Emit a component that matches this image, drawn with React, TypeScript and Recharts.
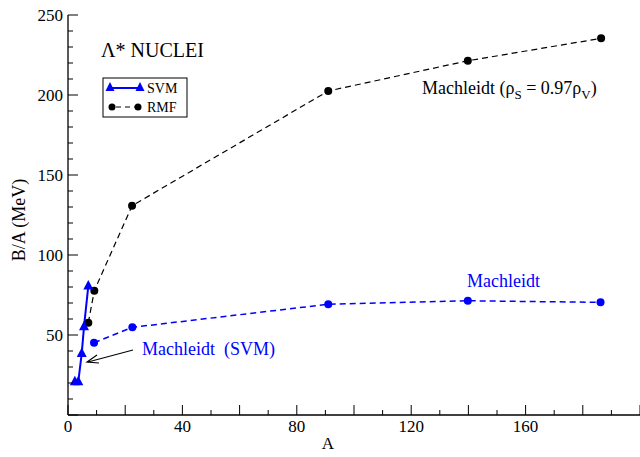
import React from 'react';
import { LineChart, Line, XAxis, YAxis } from 'recharts';

// ---- data ----
const svmA = [2.4, 3.6, 4.8, 5.6, 7.1];
const svmBA = [20.8, 20.8, 38.5, 55.2, 80.6];
const rmfA = [7.1, 9.2, 22.4, 91, 139.8, 186.4];
const rmfBA = [57.7, 77.7, 130.8, 202.5, 221.4, 235.4];
const machA = [9.1, 22.5, 91, 139.8, 186.2];
const machBA = [45.2, 54.8, 69.2, 71.4, 70.4];

const xTicks = [0, 10, 20, 30, 40, 50, 60, 70, 80, 90, 100, 110, 120, 130, 140, 150, 160, 170, 180, 190, 200];
const xTickLabels = [0, 40, 80, 120, 160];
const xMajor = [0, 20, 40, 60, 80, 100, 120, 140, 160, 180, 200];
const yTicks = [0, 10, 20, 30, 40, 50, 60, 70, 80, 90, 100, 110, 120, 130, 140, 150, 160, 170, 180, 190, 200, 210, 220, 230, 240, 250];
const yTickLabels = [50, 100, 150, 200, 250];
const yMajor = [0, 50, 100, 150, 200, 250];

const svmData = svmA.map((a, i) => ({ x: a, y: svmBA[i] }));
const rmfData = rmfA.map((a, i) => ({ x: a, y: rmfBA[i] }));
const machData = machA.map((a, i) => ({ x: a, y: machBA[i] }));

const FONT = 'Liberation Serif, DejaVu Serif, serif';
const BLUE = '#0000ff';
const serif = { fontFamily: FONT };

const BottomTick = (p: any) => {
  const v = p.payload.value;
  const len = xMajor.includes(v) ? 10 : 5;
  return (
    <g>
      <line x1={p.x} y1={p.y} x2={p.x} y2={p.y - len} stroke="#000" strokeWidth={1} />
      {xTickLabels.includes(v) && (
        <text x={p.x} y={p.y + 17} textAnchor="middle" style={serif} fontSize={17} fill="#000">
          {v}
        </text>
      )}
    </g>
  );
};

const TopTick = (p: any) => (
  <line x1={p.x} y1={p.y} x2={p.x} y2={p.y + 10} stroke="#000" strokeWidth={1} />
);

const LeftTick = (p: any) => {
  const v = p.payload.value;
  const len = yMajor.includes(v) ? 10 : 5;
  return (
    <g>
      <line x1={p.x} y1={p.y} x2={p.x + len} y2={p.y} stroke="#000" strokeWidth={1} />
      {yTickLabels.includes(v) && (
        <text x={p.x - 5} y={p.y + 6} textAnchor="end" style={serif} fontSize={17} fill="#000">
          {v}
        </text>
      )}
    </g>
  );
};

const RightTick = (p: any) => {
  const v = p.payload.value;
  const len = yMajor.includes(v) ? 10 : 5;
  return <line x1={p.x} y1={p.y} x2={p.x - len} y2={p.y} stroke="#000" strokeWidth={1} />;
};

const TriangleDot = (p: any) => {
  const { cx, cy, index } = p;
  if (cx == null || cy == null) return <g key={`t${index}`} />;
  return (
    <polygon
      key={`t${index}`}
      points={`${cx},${cy - 6} ${cx - 5},${cy + 3.5} ${cx + 5},${cy + 3.5}`}
      fill={BLUE}
    />
  );
};

export default function App() {
  return (
    <div style={{ position: 'absolute', left: 0, top: 0, width: 640, height: 457, background: '#fff' }}>
      <LineChart width={640} height={457} margin={{ top: 15, right: 0, bottom: 0, left: 0 }}>
        <XAxis
          xAxisId="b"
          type="number"
          dataKey="x"
          domain={[0, 200]}
          ticks={xTicks}
          interval={0}
          tick={<BottomTick />}
          tickSize={0}
          tickMargin={0}
          tickLine={false}
          axisLine={{ stroke: '#000', strokeWidth: 1.3 }}
          height={42}
          allowDataOverflow
        />
        <XAxis
          xAxisId="t"
          orientation="top"
          type="number"
          dataKey="x"
          domain={[0, 200]}
          ticks={xTicks}
          interval={0}
          tick={<TopTick />}
          tickSize={0}
          tickMargin={0}
          tickLine={false}
          axisLine={{ stroke: '#000', strokeWidth: 1.3 }}
          height={0}
          allowDataOverflow
        />
        <YAxis
          yAxisId="l"
          type="number"
          dataKey="y"
          domain={[0, 250]}
          ticks={yTicks}
          interval={0}
          tick={<LeftTick />}
          tickSize={0}
          tickMargin={0}
          tickLine={false}
          axisLine={{ stroke: '#000', strokeWidth: 1.3 }}
          width={68}
          allowDataOverflow
        />
        <YAxis
          yAxisId="r"
          orientation="right"
          type="number"
          dataKey="y"
          domain={[0, 250]}
          ticks={yTicks}
          interval={0}
          tick={<RightTick />}
          tickSize={0}
          tickMargin={0}
          tickLine={false}
          axisLine={{ stroke: '#000', strokeWidth: 1.3 }}
          width={0}
          allowDataOverflow
        />
        <Line
          xAxisId="b"
          yAxisId="l"
          data={rmfData}
          dataKey="y"
          type="linear"
          stroke="#000"
          strokeWidth={1.2}
          strokeDasharray="6 4"
          dot={{ r: 4, fill: '#000', stroke: 'none' }}
          isAnimationActive={false}
        />
        <Line
          xAxisId="b"
          yAxisId="l"
          data={machData}
          dataKey="y"
          type="linear"
          stroke={BLUE}
          strokeWidth={1.5}
          strokeDasharray="6 4"
          dot={{ r: 4, fill: BLUE, stroke: 'none' }}
          isAnimationActive={false}
        />
        <Line
          xAxisId="b"
          yAxisId="l"
          data={svmData}
          dataKey="y"
          type="linear"
          stroke={BLUE}
          strokeWidth={2}
          dot={<TriangleDot />}
          isAnimationActive={false}
        />
      </LineChart>
      <svg
        width={640}
        height={457}
        style={{ position: 'absolute', left: 0, top: 0, pointerEvents: 'none' }}
      >
        <text x={101} y={57} style={serif} fontSize={20} fill="#000">Λ* NUCLEI</text>
        {/* legend */}
        <rect x={103} y={78} width={84} height={39} fill="#fff" stroke="#000" strokeWidth={1} />
        <line x1={110} y1={88} x2={140} y2={88} stroke={BLUE} strokeWidth={2} />
        <polygon points="110,82 105.5,91 114.5,91" fill={BLUE} />
        <polygon points="140,82 135.5,91 144.5,91" fill={BLUE} />
        <text x={147} y={93} style={serif} fontSize={14} fill="#000">SVM</text>
        <line x1={112} y1={107} x2={138} y2={107} stroke="#000" strokeWidth={1.2} strokeDasharray="5 4" strokeDashoffset={-4} />
        <circle cx={112} cy={107} r={3.5} fill="#000" />
        <circle cx={138} cy={107} r={3.5} fill="#000" />
        <text x={147} y={112} style={serif} fontSize={14} fill="#000">RMF</text>
        {/* annotations */}
        <text x={422} y={94} style={serif} fontSize={18} fill="#000">
          Machleidt (ρ<tspan fontSize={13} dy={5}>S</tspan>
          <tspan dy={-5}> = 0.97ρ</tspan>
          <tspan fontSize={13} dy={5}>V</tspan>
          <tspan dy={-5}>)</tspan>
        </text>
        <text x={467} y={287} style={serif} fontSize={18} fill={BLUE}>Machleidt</text>
        <text x={142} y={355} style={{ ...serif, whiteSpace: 'pre' }} fontSize={18} fill={BLUE}>
          {'Machleidt  (SVM)'}
        </text>
        <line x1={133} y1={350} x2={88} y2={362} stroke="#000" strokeWidth={1.2} />
        <polyline points="97,355 87,362 99,363" fill="none" stroke="#000" strokeWidth={1.2} />
        {/* axis titles */}
        <text x={328} y={449} textAnchor="middle" style={serif} fontSize={17} fill="#000">A</text>
        <text
          x={0}
          y={0}
          transform="translate(25,220) rotate(-90)"
          textAnchor="middle"
          style={serif}
          fontSize={18}
          fill="#000"
        >
          B/A (MeV)
        </text>
      </svg>
    </div>
  );
}
